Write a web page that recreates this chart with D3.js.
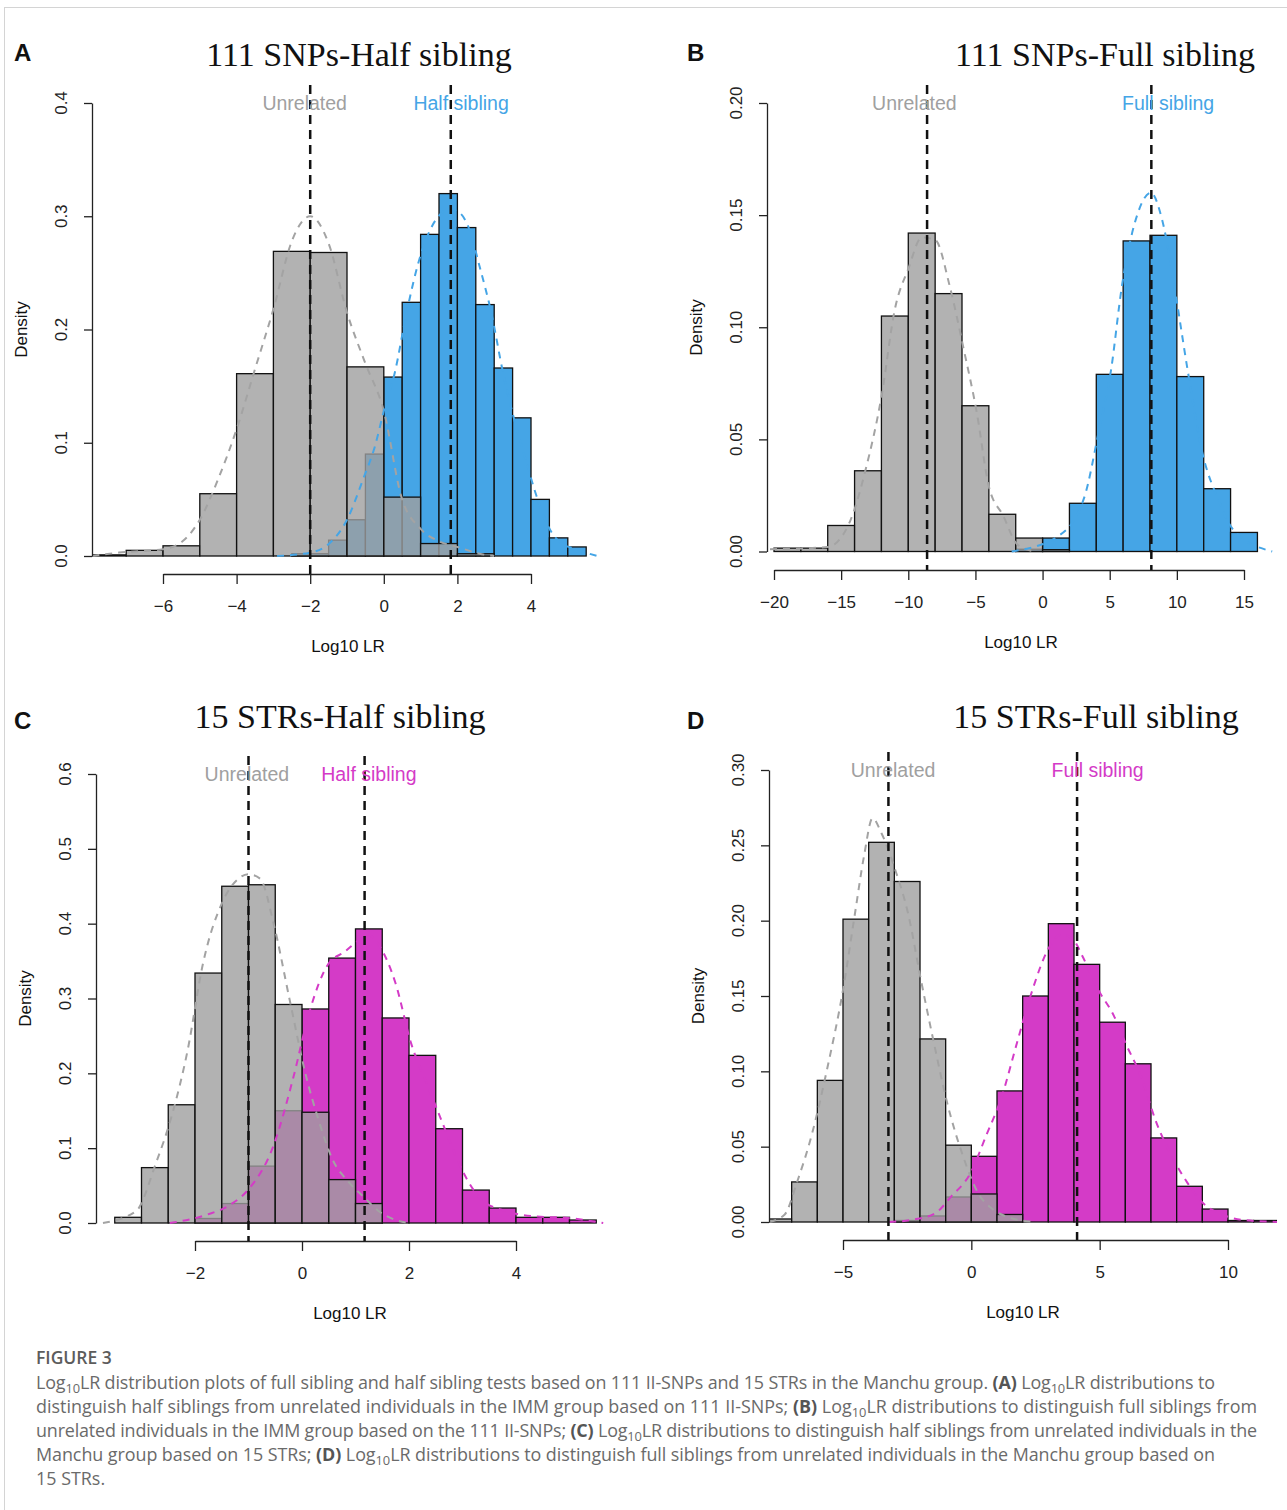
<!DOCTYPE html>
<html><head><meta charset="utf-8">
<script src="https://cdn.jsdelivr.net/npm/d3@7"></script>
<style>
body{margin:0;background:#fff;}
svg{display:block;font-family:"Liberation Sans",Arial,sans-serif;}
</style></head><body>
<svg id="fig" width="1287" height="1510"></svg>
<script>
// ---- panel A : 111 SNPs, half sibling ----
var aUnrBreaks = [-8,-7,-6,-5,-4,-3,-2,-1,0,1,2,3];
var aUnrDens   = [0.001,0.005,0.009,0.055,0.161,0.269,0.268,0.167,0.052,0.011,0.002];
var aRelBreaks = [-2.5,-2,-1.5,-1,-0.5,0,0.5,1,1.5,2,2.5,3,3.5,4,4.5,5,5.5];
var aRelDens   = [0.002,0.002,0.014,0.032,0.090,0.158,0.224,0.284,0.320,0.290,0.222,0.166,0.122,0.050,0.016,0.008];
var aUnrCurve  = [[-7.92,0],[-7.2,0.003],[-6,0.006],[-5.47,0.013],[-5,0.032],[-4.5,0.068],[-4,0.112],[-3.5,0.165],[-3,0.218],[-2.5,0.278],[-2,0.30],[-1.5,0.276],[-1,0.215],[-0.5,0.17],[0,0.128],[0.48,0.052],[1,0.024],[1.5,0.013],[2,0.008],[2.6,0.002],[3,0]];
var aRelCurve  = [[-2.9,0],[-2,0.003],[-1.52,0.01],[-1,0.032],[-0.56,0.068],[-0.24,0.097],[0,0.128],[0.3,0.162],[0.62,0.215],[0.94,0.259],[1.26,0.288],[1.58,0.303],[1.8,0.306],[2.06,0.303],[2.33,0.288],[2.6,0.256],[2.92,0.215],[3.24,0.162],[3.5,0.126],[3.83,0.088],[4.15,0.053],[4.47,0.026],[4.79,0.012],[5.22,0.006],[5.8,0]];
var aMeans     = [-2, 1.82];
var aLabelX    = [-2.15, 2.1];
var aXTicks    = [-6,-4,-2,0,2,4];
var aXLabels   = ["\u22126","\u22124","\u22122","0","2","4"];
var aYTicks    = [0,0.1,0.2,0.3,0.4];
var aYLabels   = ["0.0","0.1","0.2","0.3","0.4"];

// ---- panel B : 111 SNPs, full sibling ----
var bUnrBreaks = [-20,-18,-16,-14,-12,-10,-8,-6,-4,-2,0,2];
var bUnrDens   = [0.0015,0.0015,0.0116,0.036,0.105,0.142,0.115,0.065,0.0166,0.006,0.0008];
var bRelBreaks = [-2,0,2,4,6,8,10,12,14,16];
var bRelDens   = [0.001,0.006,0.0215,0.079,0.1385,0.141,0.078,0.028,0.0085];
var bUnrCurve  = [[-20.3,0.001],[-16,0.002],[-14.3,0.014],[-13.2,0.036],[-12,0.069],[-11,0.108],[-10,0.126],[-9,0.14],[-8,0.139],[-6.9,0.118],[-5.9,0.091],[-4.9,0.062],[-4,0.029],[-2.9,0.0156],[-2,0.004],[-1.2,0.001],[-0.5,0]];
var bRelCurve  = [[-2.3,0],[1.2,0.007],[3.1,0.024],[4.2,0.054],[5.1,0.081],[5.9,0.118],[7.1,0.151],[8.06,0.16],[8.9,0.148],[9.9,0.115],[10.8,0.081],[11.9,0.044],[13.1,0.023],[14.2,0.0097],[17.1,0]];
var bMeans     = [-8.6, 8.1];
var bLabelX    = [-9.55, 9.35];
var bXTicks    = [-20,-15,-10,-5,0,5,10,15];
var bXLabels   = ["\u221220","\u221215","\u221210","\u22125","0","5","10","15"];
var bYTicks    = [0,0.05,0.1,0.15,0.2];
var bYLabels   = ["0.00","0.05","0.10","0.15","0.20"];

// ---- panel C : 15 STRs, half sibling ----
var cUnrBreaks = [-3.5,-3,-2.5,-2,-1.5,-1,-0.5,0,0.5,1,1.5];
var cUnrDens   = [0.0076,0.074,0.158,0.334,0.450,0.452,0.292,0.148,0.058,0.026];
var cRelBreaks = [-2,-1.5,-1,-0.5,0,0.5,1,1.5,2,2.5,3,3.5,4,4.5,5,5.5];
var cRelDens   = [0.006,0.026,0.076,0.150,0.286,0.354,0.393,0.274,0.224,0.126,0.044,0.020,0.0076,0.0076,0.004];
var cUnrCurve  = [[-3.72,0],[-3.1,0.016],[-2.73,0.08],[-2.44,0.142],[-2.14,0.23],[-1.85,0.347],[-1.48,0.43],[-1.19,0.46],[-1,0.466],[-0.78,0.46],[-0.53,0.40],[-0.23,0.298],[0.08,0.195],[0.3,0.14],[0.57,0.085],[0.87,0.055],[1.15,0.035],[1.45,0.015],[1.75,0.004],[2,0]];
var cRelCurve  = [[-2.47,0],[-1.78,0.011],[-1.35,0.024],[-1.0,0.045],[-0.54,0.102],[-0.16,0.195],[0.13,0.28],[0.5,0.347],[0.79,0.362],[1.1,0.38],[1.23,0.385],[1.45,0.37],[1.75,0.32],[2.04,0.24],[2.33,0.187],[2.63,0.133],[2.99,0.071],[3.36,0.031],[3.8,0.016],[4.31,0.009],[4.97,0.0067],[5.63,0]];
var cMeans     = [-1.0, 1.17];
var cLabelX    = [-1.03, 1.25];
var cXTicks    = [-2,0,2,4];
var cXLabels   = ["\u22122","0","2","4"];
var cYTicks    = [0,0.1,0.2,0.3,0.4,0.5,0.6];
var cYLabels   = ["0.0","0.1","0.2","0.3","0.4","0.5","0.6"];

// ---- panel D : 15 STRs, full sibling ----
var dUnrBreaks = [-8,-7,-6,-5,-4,-3,-2,-1,0,1,2];
var dUnrDens   = [0.002,0.0266,0.094,0.201,0.252,0.226,0.1215,0.051,0.0186,0.005];
var dRelBreaks = [-3,-2,-1,0,1,2,3,4,5,6,7,8,9,10,11,12];
var dRelDens   = [0.001,0.004,0.0166,0.0436,0.087,0.150,0.198,0.171,0.1326,0.105,0.0558,0.0237,0.0086,0.001,0.001];
var dUnrCurve  = [[-7.87,0],[-7.27,0.005],[-6.8,0.026],[-6.2,0.059],[-5.6,0.103],[-5,0.154],[-4.55,0.203],[-4.18,0.243],[-3.85,0.268],[-3.5,0.258],[-2.97,0.234],[-2.44,0.203],[-1.99,0.163],[-1.46,0.119],[-0.94,0.079],[-0.33,0.044],[0.27,0.019],[0.87,0.008],[1.48,0.003],[2.5,0]];
var dRelCurve  = [[-3.2,0],[-2.3,0.0015],[-1.39,0.006],[-0.78,0.017],[-0.03,0.0325],[0.57,0.057],[1.18,0.083],[1.78,0.119],[2.38,0.154],[2.99,0.181],[3.51,0.191],[3.97,0.1875],[4.34,0.176],[4.95,0.154],[5.55,0.137],[6.0,0.119],[6.6,0.097],[7.21,0.066],[7.81,0.0436],[8.42,0.026],[9.02,0.0126],[9.77,0.005],[10.5,0.0015],[12,0]];
var dMeans     = [-3.23, 4.12];
var dLabelX    = [-3.05, 4.92];
var dXTicks    = [-5,0,5,10];
var dXLabels   = ["\u22125","0","5","10"];
var dYTicks    = [0,0.05,0.1,0.15,0.2,0.25,0.3];
var dYLabels   = ["0.00","0.05","0.10","0.15","0.20","0.25","0.30"];

var titles     = ["111 SNPs-Half sibling","111 SNPs-Full sibling","15 STRs-Half sibling","15 STRs-Full sibling"];
var letters    = ["A","B","C","D"];
var relNames   = ["Half sibling","Full sibling","Half sibling","Full sibling"];

var captionLines = [
  "Log_{10}LR distribution plots of full sibling and half sibling tests based on 111 II-SNPs and 15 STRs in the Manchu group. **(A)** Log_{10}LR distributions to",
  "distinguish half siblings from unrelated individuals in the IMM group based on 111 II-SNPs; **(B)** Log_{10}LR distributions to distinguish full siblings from",
  "unrelated individuals in the IMM group based on the 111 II-SNPs; **(C)** Log_{10}LR distributions to distinguish half siblings from unrelated individuals in the",
  "Manchu group based on 15 STRs; **(D)** Log_{10}LR distributions to distinguish full siblings from unrelated individuals in the Manchu group based on",
  "15 STRs."
];
// right ends of the wrapped caption lines (null = last line, left ragged)
var captionEnds = [1215, 1257, 1257, 1215, null];

var BLUE = "#45a5e6", MAGENTA = "#d43bc7";

var svg = d3.select("#fig");

// frame of the figure
svg.append("line").attr("x1",4).attr("x2",1287).attr("y1",7.5).attr("y2",7.5).attr("stroke","#d4d4d4");
svg.append("line").attr("x1",4.5).attr("x2",4.5).attr("y1",7.5).attr("y2",1510).attr("stroke","#d4d4d4");

var panels = [
  {id:"a", unrB:aUnrBreaks, unrD:aUnrDens, relB:aRelBreaks, relD:aRelDens, unrC:aUnrCurve, relC:aRelCurve,
   means:aMeans, labX:aLabelX, xT:aXTicks, xL:aXLabels, yT:aYTicks, yL:aYLabels, color:BLUE,
   xRange:[163,531], yRange:[556,103], box:[92,604,85,574], titleX:359, titleY:66, letterX:14, letterY:61},
  {id:"b", unrB:bUnrBreaks, unrD:bUnrDens, relB:bRelBreaks, relD:bRelDens, unrC:bUnrCurve, relC:bRelCurve,
   means:bMeans, labX:bLabelX, xT:bXTicks, xL:bXLabels, yT:bYTicks, yL:bYLabels, color:BLUE,
   xRange:[774,1244], yRange:[551.5,103], box:[767,1275,85,570], titleX:1105, titleY:66, letterX:687, letterY:61},
  {id:"c", unrB:cUnrBreaks, unrD:cUnrDens, relB:cRelBreaks, relD:cRelDens, unrC:cUnrCurve, relC:cRelCurve,
   means:cMeans, labX:cLabelX, xT:cXTicks, xL:cXLabels, yT:cYTicks, yL:cYLabels, color:MAGENTA,
   xRange:[195,516], yRange:[1223,774], box:[96,604,756,1241], titleX:340, titleY:728, letterX:14, letterY:729},
  {id:"d", unrB:dUnrBreaks, unrD:dUnrDens, relB:dRelBreaks, relD:dRelDens, unrC:dUnrCurve, relC:dRelCurve,
   means:dMeans, labX:dLabelX, xT:dXTicks, xL:dXLabels, yT:dYTicks, yL:dYLabels, color:MAGENTA,
   xRange:[843,1228], yRange:[1222,770], box:[769,1277,752,1240], titleX:1096, titleY:728, letterX:687, letterY:729}
];

panels.forEach(function(p, k){ drawPanel(p, k); });

function drawPanel(p, k){
  var g = svg.append("g").attr("class","panel-"+p.id);
  var x = d3.scaleLinear().domain([p.xT[0], p.xT[p.xT.length-1]]).range(p.xRange);
  var y = d3.scaleLinear().domain([0, p.yT[p.yT.length-1]]).range(p.yRange);
  var left = p.box[0], right = p.box[1], top = p.box[2], bottom = p.box[3];

  g.append("clipPath").attr("id","clip-"+p.id).append("rect")
    .attr("x",left).attr("y",top).attr("width",right-left).attr("height",bottom-top);
  var plot = g.append("g").attr("clip-path","url(#clip-"+p.id+")");

  function bars(breaks, dens, fill, cls){
    plot.selectAll("rect."+cls).data(dens).enter().append("rect")
      .attr("class",cls)
      .attr("x",function(d,i){ return x(breaks[i]); })
      .attr("width",function(d,i){ return x(breaks[i+1]) - x(breaks[i]); })
      .attr("y",function(d){ return y(d); })
      .attr("height",function(d){ return y(0) - y(d); })
      .attr("fill",fill).attr("stroke","#111").attr("stroke-width",1.3);
  }
  bars(p.relB, p.relD, p.color, "rel");
  bars(p.unrB, p.unrD, "rgba(159,159,159,0.8)", "unr");

  var line = d3.line()
    .x(function(d){ return x(d[0]); })
    .y(function(d){ return y(d[1]); })
    .curve(d3.curveMonotoneX);
  plot.append("path").datum(p.unrC).attr("d",line).attr("fill","none")
    .attr("stroke","#a3a3a3").attr("stroke-width",2).attr("stroke-dasharray","7,6");
  plot.append("path").datum(p.relC).attr("d",line).attr("fill","none")
    .attr("stroke",p.color).attr("stroke-width",2).attr("stroke-dasharray","7,6");

  g.selectAll("line.mean").data(p.means).enter().append("line")
    .attr("class","mean")
    .attr("x1",function(d){ return x(d); }).attr("x2",function(d){ return x(d); })
    .attr("y1",top).attr("y2",bottom)
    .attr("stroke","#111").attr("stroke-width",2.5).attr("stroke-dasharray","9,6");

  // group labels at the top of the plot
  var ymax = p.yT[p.yT.length-1];
  g.append("text").attr("x",x(p.labX[0])).attr("y",y(ymax)).attr("dy","0.35em")
    .attr("text-anchor","middle").attr("font-size",19.5).attr("fill","#a0a0a0").text("Unrelated");
  g.append("text").attr("x",x(p.labX[1])).attr("y",y(ymax)).attr("dy","0.35em")
    .attr("text-anchor","middle").attr("font-size",19.5).attr("fill",p.color).text(relNames[k]);

  // x axis
  var xAxis = g.append("g").attr("transform","translate(0,"+bottom+")")
    .call(d3.axisBottom(x).tickValues(p.xT).tickFormat(function(d,i){ return p.xL[i]; })
      .tickSize(10).tickSizeOuter(0).tickPadding(16));
  xAxis.select(".domain").attr("stroke","#222").attr("stroke-width",1.3);
  xAxis.selectAll(".tick line").attr("stroke","#222").attr("stroke-width",1.3);
  xAxis.selectAll("text").attr("font-size",17).attr("fill","#222")
    .attr("font-family","Liberation Sans, Arial, sans-serif");

  // y axis, labels rotated like base R
  var yAxis = g.append("g").attr("transform","translate("+left+",0)")
    .call(d3.axisLeft(y).tickValues(p.yT).tickFormat("").tickSize(8).tickSizeOuter(0));
  yAxis.select(".domain").attr("stroke","#222").attr("stroke-width",1.3);
  yAxis.selectAll(".tick line").attr("stroke","#222").attr("stroke-width",1.3);
  g.selectAll("text.ylab").data(p.yT).enter().append("text")
    .attr("class","ylab")
    .attr("transform",function(d){ return "translate("+(left-31)+","+y(d)+") rotate(-90)"; })
    .attr("dy","0.35em").attr("text-anchor","middle").attr("font-size",17).attr("fill","#222")
    .text(function(d,i){ return p.yL[i]; });

  g.append("text").attr("x",(left+right)/2).attr("y",bottom+72).attr("dy","0.35em")
    .attr("text-anchor","middle").attr("font-size",17).attr("fill","#111").text("Log10 LR");
  g.append("text").attr("transform","translate("+(left-71)+","+((top+bottom)/2)+") rotate(-90)")
    .attr("dy","0.35em").attr("text-anchor","middle").attr("font-size",17).attr("fill","#111").text("Density");

  g.append("text").attr("x",p.titleX).attr("y",p.titleY).attr("text-anchor","middle")
    .attr("font-family","Liberation Serif, Times New Roman, serif").attr("font-size",34).attr("fill","#111")
    .text(titles[k]);
  g.append("text").attr("x",p.letterX).attr("y",p.letterY).attr("font-weight","bold")
    .attr("font-size",24).attr("fill","#111").text(letters[k]);
}

// ---- caption ----
var cap = svg.append("g").attr("font-family","Open Sans, Lato, sans-serif");
cap.append("text").attr("x",36).attr("y",1364).attr("font-size",17.5).attr("font-weight",600)
  .attr("fill","#5c5c5c").text("FIGURE 3");

var capText = cap.append("g").attr("fill","#6a6a6a");
var capNodes = captionLines.map(function(str, i){
  var t = capText.append("text").attr("x",36).attr("y",1389 + i*24).attr("font-size",17);
  var back = 0;
  str.split(/(\*\*.*?\*\*|_\{.*?\})/).forEach(function(part){
    if (!part) return;
    var ts;
    if (part.indexOf("_{") === 0) {
      ts = t.append("tspan").attr("font-size","0.72em").attr("dy",4).text(part.slice(2,-1));
      back = -4;
      return;
    }
    if (part.indexOf("**") === 0) {
      ts = t.append("tspan").attr("font-weight",700).attr("fill","#555").text(part.slice(2,-2));
    } else {
      ts = t.append("tspan").text(part);
    }
    if (back) { ts.attr("dy", back); back = 0; }
  });
  return t;
});
// one font size for all lines, then small letter-spacing so each wrapped line ends where it does
var w = capNodes[1].node().getComputedTextLength();
var fs = 17 * 1221 / w;
capNodes.forEach(function(t){ t.attr("font-size", fs); });
capNodes.forEach(function(t, i){
  if (captionEnds[i] === null) return;
  var len = t.node().getComputedTextLength();
  var n = t.text().length;
  t.attr("letter-spacing", ((captionEnds[i] - 36) - len) / (n - 1));
});
</script>
</body></html>
